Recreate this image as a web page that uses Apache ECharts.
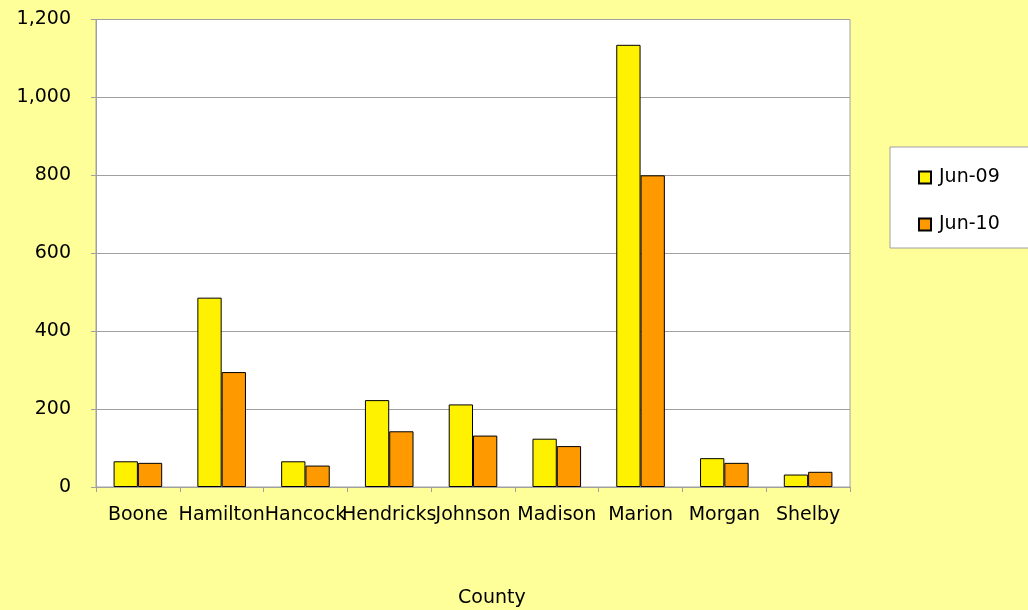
<!DOCTYPE html>
<html><head><meta charset="utf-8">
<script src="https://cdn.jsdelivr.net/npm/echarts@6/dist/echarts.min.js"></script>
<style>html,body{margin:0;padding:0;background:#FFFF99}#c{width:1028px;height:610px}</style>
</head><body><div id="c"></div>
<script>
const counties = ['Boone','Hamilton','Hancock','Hendricks','Johnson','Madison','Marion','Morgan','Shelby'];
const jun09 = [66, 486, 66, 223, 212, 124, 1135, 74, 32];
const jun10 = [62, 295, 55, 143, 132, 105, 800, 62, 39];
const seriesNames = ['Jun-09', 'Jun-10'];
const axisTitle = 'County';

const font = 'DejaVu Sans, Verdana, sans-serif';
const chart = echarts.init(document.getElementById('c'));
chart.setOption({
  backgroundColor: '#FFFF99',
  animation: false,
  grid: {left: 96, right: 178, top: 19.5, bottom: 123, show: true, backgroundColor: '#FFFFFF', borderColor: '#A0A0A0', borderWidth: 1},
  xAxis: {
    type: 'category', data: counties,
    axisLine: {lineStyle: {color: '#A0A0A0'}},
    axisTick: {show: true, length: 5, lineStyle: {color: '#A0A0A0'}},
    axisLabel: {color: '#000', fontFamily: font, fontSize: 19, margin: 19, interval: 0}
  },
  yAxis: {
    type: 'value', min: 0, max: 1200, interval: 200,
    axisLine: {show: true, lineStyle: {color: '#A0A0A0'}},
    axisTick: {show: true, length: 5, lineStyle: {color: '#A0A0A0'}},
    splitLine: {lineStyle: {color: '#A0A0A0'}},
    axisLabel: {color: '#000', fontFamily: font, fontSize: 19, margin: 25,
      formatter: v => v.toLocaleString('en-US')}
  },
  legend: {
    orient: 'vertical', left: 890, top: 147,
    backgroundColor: '#FFFFFF', borderColor: '#A0A0A0', borderWidth: 1,
    padding: [21, 40, 14, 28], itemGap: 28, itemWidth: 12, itemHeight: 12,
    icon: 'rect',
    textStyle: {color: '#000', fontFamily: font, fontSize: 19, padding: [0, 0, 0, 3]},
    data: seriesNames
  },
  graphic: [{type: 'text', left: 495 - 37, top: 589, style: {text: axisTitle, fill: '#000', font: '19px ' + font}}],
  series: [
    {name: seriesNames[0], type: 'bar', data: jun09, barGap: '0%', barCategoryGap: '42%',
     itemStyle: {color: '#FFF200', borderColor: '#000', borderWidth: 1}},
    {name: seriesNames[1], type: 'bar', data: jun10,
     itemStyle: {color: '#FF9900', borderColor: '#000', borderWidth: 1}}
  ]
});
</script></body></html>
